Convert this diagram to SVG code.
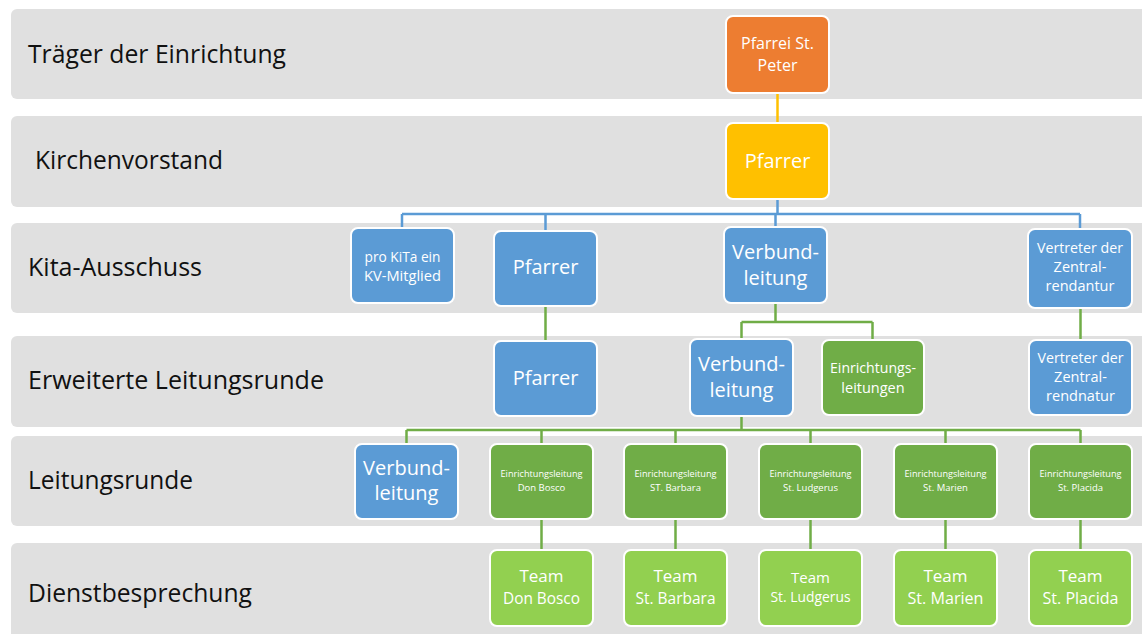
<svg xmlns="http://www.w3.org/2000/svg" width="1142" height="634" viewBox="0 0 1142 634">
<style>
.band{fill:#E0E0E0}
.lbl{font-family:"Open Sans","Liberation Sans",sans-serif;font-size:25px;fill:#111}
.box{stroke:#fff;stroke-width:2}
.blue{fill:#5B9BD5}.orange{fill:#ED7D31}.yellow{fill:#FFC000}.dgreen{fill:#70AD47}.lgreen{fill:#92D050}
.t{font-family:"Open Sans","Liberation Sans",sans-serif;fill:#fff;text-anchor:middle}
.big{font-size:20px}.mid{font-size:14.5px}.sm{font-size:9.5px}.team{font-size:17px}
.cb{stroke:#5B9BD5;stroke-width:2.5;fill:none}
.cg{stroke:#70AD47;stroke-width:2.5;fill:none}
.cy{stroke:#FFC000;stroke-width:2.5;fill:none}
</style>
<rect width="1142" height="634" fill="#fff"/>
<g id="bands">
<rect class="band" x="11" y="9" width="1140" height="90" rx="6"/>
<rect class="band" x="11" y="116" width="1140" height="91" rx="6"/>
<rect class="band" x="11" y="223" width="1140" height="90" rx="6"/>
<rect class="band" x="11" y="336" width="1140" height="91" rx="6"/>
<rect class="band" x="11" y="436" width="1140" height="90" rx="6"/>
<rect class="band" x="11" y="543" width="1140" height="100" rx="6"/>
<text class="lbl" x="28" y="63" textLength="258" lengthAdjust="spacingAndGlyphs">Träger der Einrichtung</text>
<text class="lbl" x="35" y="169" textLength="188" lengthAdjust="spacingAndGlyphs">Kirchenvorstand</text>
<text class="lbl" x="28" y="276" textLength="174" lengthAdjust="spacingAndGlyphs">Kita-Ausschuss</text>
<text class="lbl" x="28" y="389" textLength="296" lengthAdjust="spacingAndGlyphs">Erweiterte Leitungsrunde</text>
<text class="lbl" x="28" y="489" textLength="165" lengthAdjust="spacingAndGlyphs">Leitungsrunde</text>
<text class="lbl" x="28" y="602" textLength="224" lengthAdjust="spacingAndGlyphs">Dienstbesprechung</text>
</g>
<g id="connectors">
<path class="cy" d="M777.5 93V123"/>
<path class="cb" d="M777.5 199V214M402 214H1080M402 214V228M545.5 214V231M775.5 214V227M1080 214V229"/>
<path class="cg" d="M545.5 306V341M775.5 303V322M741.5 322H872.5M741.5 322V339M872.5 322V340M1080.5 308V340"/>
<path class="cg" d="M741.5 416V430M406.5 430H1080.5M406.5 430V444M541.5 430V444M675.5 430V444M810.5 430V444M945.5 430V444M1080.5 430V444"/>
<path class="cg" d="M541.5 519V550M675.5 519V550M810.5 519V550M945.5 519V550M1080.5 519V550"/>
</g>
<g id="n-pfarrei"><rect class="box orange" x="726" y="16" width="103" height="77" rx="7"/>
<text class="t" x="777.5" y="49" font-size="16">Pfarrei St.</text><text class="t" x="777.5" y="71" font-size="16">Peter</text></g>
<g id="n-pfarrer-kv"><rect class="box yellow" x="726" y="123" width="103" height="76" rx="7"/>
<text class="t big" x="777.5" y="168">Pfarrer</text></g>
<g id="n-kv-mitglied"><rect class="box blue" x="351" y="228" width="103" height="75" rx="7"/>
<text class="t mid" x="402.5" y="262" textLength="76" lengthAdjust="spacingAndGlyphs">pro KiTa ein</text><text class="t mid" x="402.5" y="281" textLength="77" lengthAdjust="spacingAndGlyphs">KV-Mitglied</text></g>
<g id="n-pfarrer-ka"><rect class="box blue" x="494" y="231" width="103" height="75" rx="7"/>
<text class="t big" x="545.5" y="274">Pfarrer</text></g>
<g id="n-verbund-ka"><rect class="box blue" x="724" y="227" width="103" height="76" rx="7"/>
<text class="t big" x="775.5" y="259">Verbund-</text><text class="t big" x="775.5" y="285">leitung</text></g>
<g id="n-vertreter-ka"><rect class="box blue" x="1028" y="229" width="104" height="79" rx="7"/>
<text class="t mid" x="1080" y="253" textLength="86" lengthAdjust="spacingAndGlyphs">Vertreter der</text><text class="t mid" x="1080" y="272">Zentral-</text><text class="t mid" x="1080" y="291">rendantur</text></g>
<g id="n-pfarrer-el"><rect class="box blue" x="494" y="341" width="103" height="75" rx="7"/>
<text class="t big" x="545.5" y="385">Pfarrer</text></g>
<g id="n-verbund-el"><rect class="box blue" x="690" y="339" width="103" height="77" rx="7"/>
<text class="t big" x="741.5" y="371">Verbund-</text><text class="t big" x="741.5" y="397">leitung</text></g>
<g id="n-einrichtungsleitungen"><rect class="box dgreen" x="822" y="340" width="102" height="75" rx="7"/>
<text class="t mid" x="873" y="373" textLength="86" lengthAdjust="spacingAndGlyphs">Einrichtungs-</text><text class="t mid" x="873" y="393">leitungen</text></g>
<g id="n-vertreter-el"><rect class="box blue" x="1029" y="340" width="103" height="75" rx="7"/>
<text class="t mid" x="1080.5" y="363" textLength="86" lengthAdjust="spacingAndGlyphs">Vertreter der</text><text class="t mid" x="1080.5" y="382">Zentral-</text><text class="t mid" x="1080.5" y="401">rendnatur</text></g>
<g id="n-verbund-lr"><rect class="box blue" x="355" y="444" width="103" height="75" rx="7"/>
<text class="t big" x="406.5" y="475">Verbund-</text><text class="t big" x="406.5" y="500">leitung</text></g>
<g id="n-el-donbosco"><rect class="box dgreen" x="490" y="444" width="103" height="75" rx="7"/>
<text class="t sm" x="541.5" y="477" textLength="82" lengthAdjust="spacingAndGlyphs">Einrichtungsleitung</text><text class="t sm" x="541.5" y="491">Don  Bosco</text></g>
<g id="n-el-barbara"><rect class="box dgreen" x="624" y="444" width="103" height="75" rx="7"/>
<text class="t sm" x="675.5" y="477" textLength="82" lengthAdjust="spacingAndGlyphs">Einrichtungsleitung</text><text class="t sm" x="675.5" y="491">ST. Barbara</text></g>
<g id="n-el-ludgerus"><rect class="box dgreen" x="759" y="444" width="103" height="75" rx="7"/>
<text class="t sm" x="810.5" y="477" textLength="82" lengthAdjust="spacingAndGlyphs">Einrichtungsleitung</text><text class="t sm" x="810.5" y="491">St. Ludgerus</text></g>
<g id="n-el-marien"><rect class="box dgreen" x="894" y="444" width="103" height="75" rx="7"/>
<text class="t sm" x="945.5" y="477" textLength="82" lengthAdjust="spacingAndGlyphs">Einrichtungsleitung</text><text class="t sm" x="945.5" y="491">St. Marien</text></g>
<g id="n-el-placida"><rect class="box dgreen" x="1029" y="444" width="103" height="75" rx="7"/>
<text class="t sm" x="1080.5" y="477" textLength="82" lengthAdjust="spacingAndGlyphs">Einrichtungsleitung</text><text class="t sm" x="1080.5" y="491">St. Placida</text></g>
<g id="n-team-donbosco"><rect class="box lgreen" x="490" y="550" width="103" height="76" rx="7"/>
<text class="t team" x="541.5" y="582">Team</text><text class="t team" x="541.5" y="604" textLength="77" lengthAdjust="spacingAndGlyphs">Don Bosco</text></g>
<g id="n-team-barbara"><rect class="box lgreen" x="624" y="550" width="103" height="76" rx="7"/>
<text class="t team" x="675.5" y="582">Team</text><text class="t team" x="675.5" y="604" textLength="80" lengthAdjust="spacingAndGlyphs">St. Barbara</text></g>
<g id="n-team-ludgerus"><rect class="box lgreen" x="759" y="550" width="103" height="76" rx="7"/>
<text class="t" font-size="15" x="810.5" y="583">Team</text><text class="t" font-size="15" x="810.5" y="602" textLength="80" lengthAdjust="spacingAndGlyphs">St. Ludgerus</text></g>
<g id="n-team-marien"><rect class="box lgreen" x="894" y="550" width="103" height="76" rx="7"/>
<text class="t team" x="945.5" y="582">Team</text><text class="t team" x="945.5" y="604" textLength="76" lengthAdjust="spacingAndGlyphs">St. Marien</text></g>
<g id="n-team-placida"><rect class="box lgreen" x="1029" y="550" width="103" height="76" rx="7"/>
<text class="t team" x="1080.5" y="582">Team</text><text class="t team" x="1080.5" y="604" textLength="76" lengthAdjust="spacingAndGlyphs">St. Placida</text></g>
</svg>
